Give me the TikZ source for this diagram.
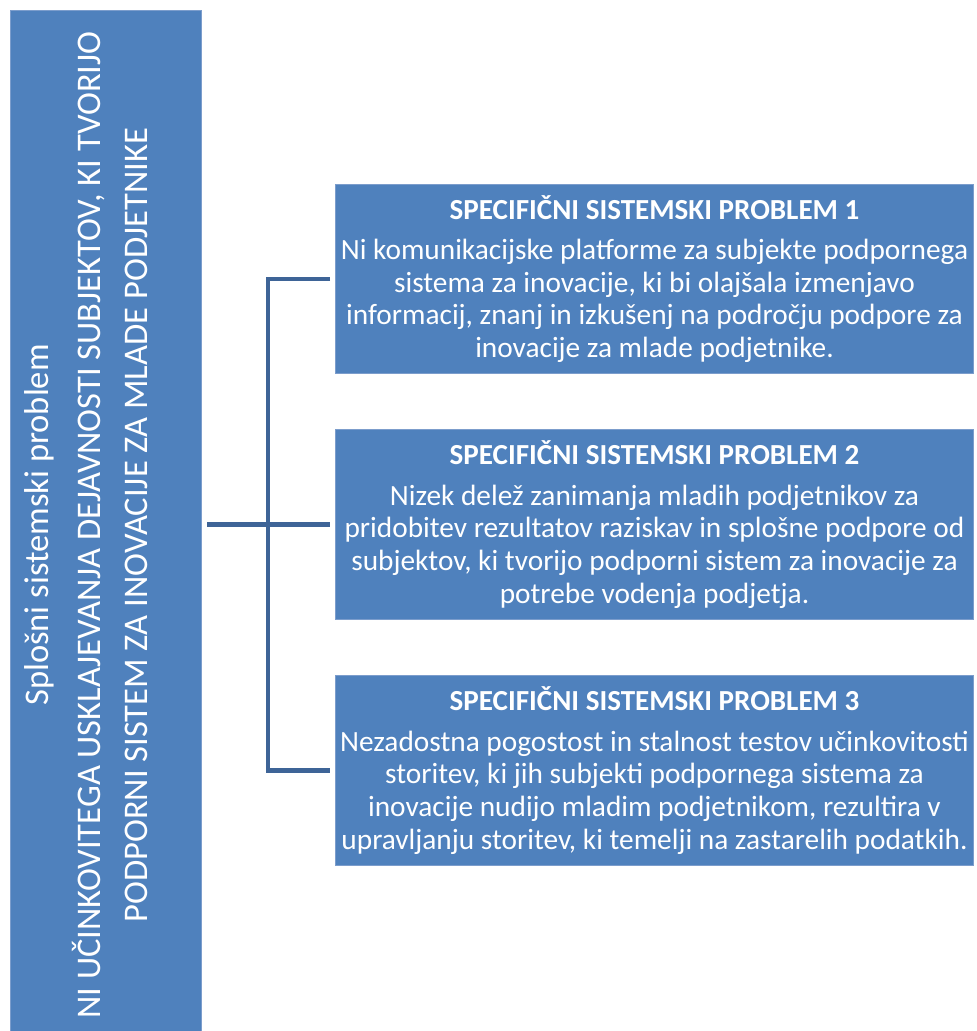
\documentclass[tikz,border=0pt]{standalone}
\usepackage{fontspec}
\setmainfont{Carlito}
\usepackage{tikz}
\definecolor{boxblue}{HTML}{4F81BD}
\definecolor{lineblue}{HTML}{3E6497}
\definecolor{edgeblue}{HTML}{7C9DCC}
\newcommand\probtitlefont{\bfseries\fontsize{21.8}{24.4}\selectfont}

\tikzset{
  probbox/.style={rectangle, fill=boxblue, draw=edgeblue, line width=0.6pt,
    text=white, minimum width=479pt, minimum height=142pt, inner sep=0pt,
    align=center, font=\fontsize{22}{24.4}\selectfont},
  link/.style={draw=lineblue, line width=3.6pt}
}

\begin{document}
\begin{tikzpicture}[x=0.75pt,y=-0.75pt]
  \useasboundingbox (0,0) rectangle (977,1031);

  % general problem, tall box on the left
  \node[rectangle, fill=boxblue, draw=edgeblue, line width=0.6pt,
    minimum width=143.25pt, minimum height=765.75pt] (general) at (105.5,520.5) {};
  \node[rotate=90, text=white, align=center,
    font=\fontsize{25.9}{35}\selectfont] (generaltext) at (86,525)
    {Splošni sistemski problem\\[4pt]
     NI UČINKOVITEGA USKLAJEVANJA DEJAVNOSTI SUBJEKTOV, KI TVORIJO\\
     PODPORNI SISTEM ZA INOVACIJE ZA MLADE PODJETNIKE};

  % specific problems
  \node[probbox] (p1) at (654.5,279)
    {{\probtitlefont SPECIFIČNI SISTEMSKI PROBLEM 1}\\[6pt]
     Ni komunikacijske platforme za subjekte podpornega\\
     sistema za inovacije, ki bi olajšala izmenjavo\\
     informacij, znanj in izkušenj na področju podpore za\\
     inovacije za mlade podjetnike.};
  \node[probbox] (p2) at (654.5,524.5)
    {{\probtitlefont SPECIFIČNI SISTEMSKI PROBLEM 2}\\[6pt]
     Nizek delež zanimanja mladih podjetnikov za\\
     pridobitev rezultatov raziskav in splošne podpore od\\
     subjektov, ki tvorijo podporni sistem za inovacije za\\
     potrebe vodenja podjetja.};
  \node[probbox, minimum height=143pt] (p3) at (654.5,770.5)
    {{\probtitlefont SPECIFIČNI SISTEMSKI PROBLEM 3}\\[6pt]
     Nezadostna pogostost in stalnost testov učinkovitosti\\
     storitev, ki jih subjekti podpornega sistema za\\
     inovacije nudijo mladim podjetnikom, rezultira v\\
     upravljanju storitev, ki temelji na zastarelih podatkih.};

  % connectors
  \coordinate (trunk) at (268,524.5);
  \draw[link] ([xshift=4.5pt]general.east |- p2.west) -- ([xshift=-3.5pt]p2.west);
  \draw[link] ([xshift=-3.5pt]p1.west) -- (trunk |- p1.west) -- (trunk |- p3.west)
    -- ([xshift=-3.5pt]p3.west);
\end{tikzpicture}
\end{document}
